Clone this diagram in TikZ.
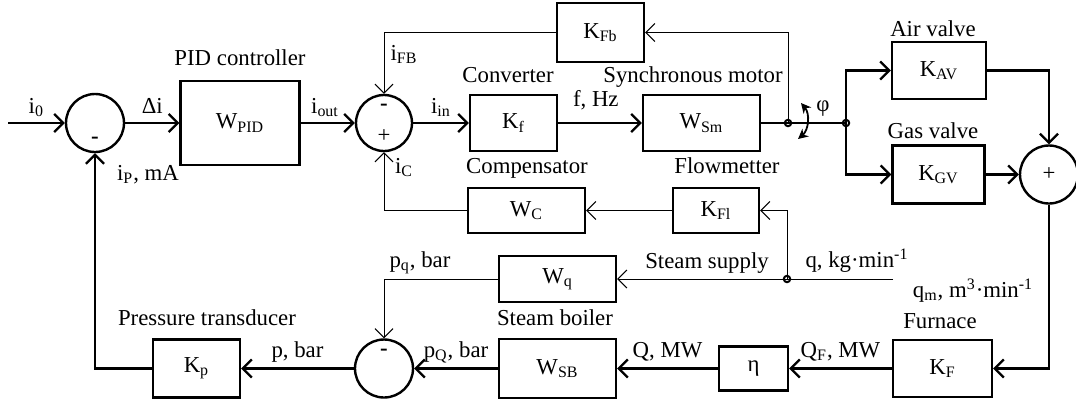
\documentclass[tikz,border=0pt]{standalone}
\usepackage{fontspec}
\setmainfont{Liberation Serif}
\usetikzlibrary{positioning,arrows.meta,calc}
\newcommand{\fs}{\fontsize{11.4}{13.7}\selectfont}
\newcommand{\sub}[1]{\textsubscript{#1}}
\newcommand{\sups}[1]{\textsuperscript{#1}}
\tikzset{
  blk/.style 2 args={draw, line width=1.2pt, minimum width=#1, minimum height=#2, inner sep=0pt},
  sumc/.style={draw, circle, line width=1.2pt, minimum size=#1, inner sep=0pt},
  jdot/.style={draw, circle, line width=1pt, minimum size=3.2pt, inner sep=0pt},
  mainw/.style={line width=1.15pt, -{Straight Barb[length=4.5pt,width=9pt]}},
  thinw/.style={line width=0.5pt, -{Straight Barb[length=4.5pt,width=9pt]}},
  lbl/.style={inner sep=0pt, text height=1.6ex, text depth=.4ex},
  sgn/.style={inner sep=0pt},
}
\begin{document}
\begin{tikzpicture}[x=0.5pt, y=-0.5pt, every node/.style={font=\fs}]
  \useasboundingbox (0,0) rectangle (1076,403);
  % blocks
  \node[blk={59.5pt}{42pt}] (pid) at (240,123) {W\sub{PID}};
  \node[blk={43.5pt}{28pt}] (conv) at (513.5,123) {K\sub{f}};
  \node[blk={58.5pt}{28pt}] (motor) at (701.5,123) {W\sub{Sm}};
  \node[blk={43.5pt}{29.5pt}] (fbk) at (600.5,32.5) {K\sub{Fb}};
  \node[blk={47pt}{28.5pt}] (airv) at (939,70.5) {K\sub{AV}};
  \node[blk={46pt}{29pt}] (gasv) at (938.5,174.5) {K\sub{GV}};
  \node[blk={58.5pt}{22.5pt}] (comp) at (526.5,210.5) {W\sub{C}};
  \node[blk={43pt}{22.5pt}] (flow) at (716,210.5) {K\sub{Fl}};
  \node[blk={58.5pt}{23pt}] (supply) at (557.5,279) {W\sub{q}};
  \node[blk={58.5pt}{29.5pt}] (boiler) at (557.5,368.5) {W\sub{SB}};
  \node[blk={34.5pt}{22pt}] (eff) at (753.5,368.5) {η};
  \node[blk={49.5pt}{28.5pt}] (furn) at (942.5,368.5) {K\sub{F}};
  \node[blk={43.5pt}{29pt}] (ptr) at (196.5,368.5) {K\sub{p}};
  % summing points and junctions
  \node[sumc=29pt] (sumin) at (95,123) {};
  \node[sumc=28pt] (sumfb) at (384,123) {};
  \node[sumc=29pt] (sumv) at (1049,174.5) {};
  \node[sumc=29pt] (sump) at (384,368.5) {};
  \node[jdot] (j1) at (788,123) {};
  \node[jdot] (j2) at (846,123) {};
  \node[jdot] (j3) at (787,279) {};
  \coordinate (i0in) at (8,123);
  \coordinate (qin) at (893,279);
  % signs
  \node[sgn] (sgnin) at (95,140) {\textbf{-}};
  \node[sgn] (sgnfa) at (384,107) {\textbf{-}};
  \node[sgn] (sgnfb) at (384,136) {+};
  \node[sgn] (sgnv) at (1049,174.5) {+};
  \node[sgn] (sgnp) at (384,352) {\textbf{-}};
  % titles
  \node[lbl] (tpid) at (240,60) {PID controller};
  \node[lbl] (tconv) at (508,77) {Converter};
  \node[lbl] (tmotor) at (693,77) {Synchronous motor};
  \node[lbl] (tairv) at (933,31) {Air valve};
  \node[lbl] (tgasv) at (933,133) {Gas valve};
  \node[lbl] (tcomp) at (527,168) {Compensator};
  \node[lbl] (tflow) at (727,168) {Flowmetter};
  \node[lbl] (tsupply) at (707,263) {Steam supply};
  \node[lbl] (tboiler) at (555,320) {Steam boiler};
  \node[lbl] (tptr) at (207,320) {Pressure transducer};
  \node[lbl] (tfurn) at (940,323) {Furnace};
  % main loop
  \draw[mainw] (i0in) -- node[lbl, pos=.5, above=2.5pt] {i\sub{0}} (sumin);
  \draw[mainw] (sumin) -- node[lbl, above=2.5pt] {Δi} (pid);
  \node[lbl] (lip) at (148,175) {i\sub{P}, mA};
  \draw[mainw] (pid) -- node[lbl, pos=.45, above=2.5pt] {i\sub{out}} (sumfb);
  \draw[mainw] (sumfb) -- node[lbl, above=2.5pt] {i\sub{in}} (conv);
  \draw[mainw] (conv) -- node[lbl, pos=.45, above=6pt] {f, Hz} (motor);
  \draw[line width=1.15pt] (motor.east) -- (j2.center);
  \draw[mainw] (j2.center) |- (airv.west);
  \draw[mainw] (j2.center) |- (gasv.west);
  \draw[mainw] (airv.east) -| (sumv.north);
  \draw[mainw] (gasv) -- (sumv);
  \draw[mainw] (sumv.south) |- (furn.east);
  \node[lbl] (lqm) at (973,292) {q\sub{m}, m\sups{3}·min\sups{-1}};
  \draw[mainw] (furn) -- node[lbl, above=3pt] {Q\sub{F}, MW} (eff);
  \draw[mainw] (eff) -- node[lbl, above=3pt] {Q, MW} (boiler);
  \draw[mainw] (boiler) -- node[lbl, above=3pt] {p\sub{Q}, bar} (sump);
  \draw[mainw] (sump) -- node[lbl, above=3pt] {p, bar} (ptr);
  \draw[mainw] (ptr.west) -| (sumin.south);
  % feedback and flow paths
  \draw[thinw] (j1.center) |- (fbk.east);
  \draw[thinw] (fbk.west) -| (sumfb.north);
  \node[lbl] (lifb) at (404,55) {i\sub{FB}};
  \draw[thinw] (j3.center) |- (flow.east);
  \draw[thinw] (flow) -- (comp);
  \draw[thinw] (comp.west) -| (sumfb.south);
  \node[lbl] (lic) at (404,168) {i\sub{C}};
  \draw[thinw] (qin) -- (supply.east);
  \node[lbl] (lq) at (857,262) {q, kg·min\sups{-1}};
  \draw[thinw] (supply.west) -| (sump.north);
  \node[lbl] (lpq) at (420,262) {p\sub{q}, bar};
  % rotation angle
  \draw[line width=0.9pt, {Stealth[length=5pt,width=5pt]}-{Stealth[length=5pt,width=5pt]}]
    ($(j1)+(10,16)$) to[bend right=45] ($(j1)+(13,-20)$);
  \node[lbl] (lphi) at (823,106) {φ};
\end{tikzpicture}
\end{document}
